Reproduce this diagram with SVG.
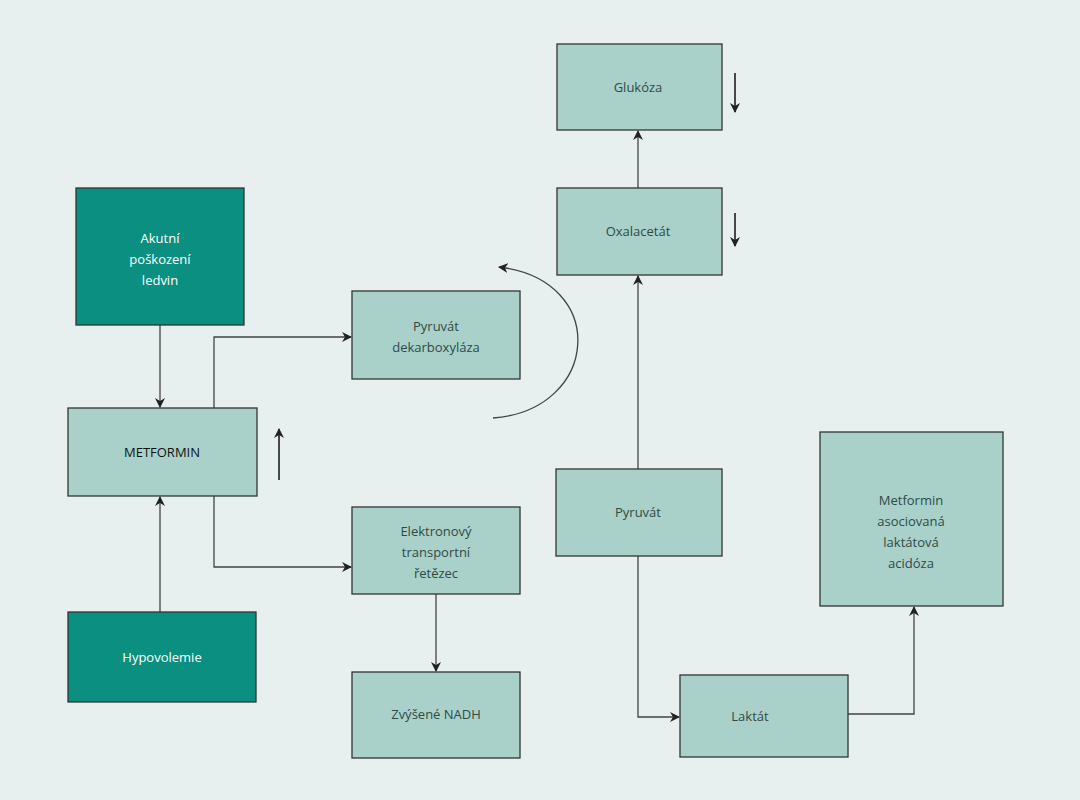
<svg xmlns="http://www.w3.org/2000/svg" width="1080" height="800" viewBox="0 0 1080 800">
<defs>
<style>
.b{fill:#a9d1ca;stroke:#333;stroke-width:1.3}
.d{fill:#0b8f80;stroke:#333;stroke-width:1.3}
.t{font-family:"Open Sans","Liberation Sans",sans-serif;font-size:13px;fill:#2f4a46;text-anchor:middle}
.w{fill:#fff}
.c{fill:none;stroke:#444;stroke-width:1.3}
.k{fill:none;stroke:#111;stroke-width:1.5}
</style>
<marker id="a" viewBox="0 0 10 10" refX="9" refY="5" markerWidth="10" markerHeight="10" markerUnits="userSpaceOnUse" orient="auto"><path d="M0,0 L10,5 L0,10 L3,5Z" fill="#222"/></marker>
<marker id="h" viewBox="0 0 10 10" refX="9" refY="5" markerWidth="12" markerHeight="12" markerUnits="userSpaceOnUse" orient="auto"><path d="M0,0 L10,5 L0,10 L3,5Z" fill="#000"/></marker>
</defs>
<rect width="1080" height="800" fill="#e7efef"/>
<g id="connectors">
<path class="c" d="M160,325V407" marker-end="url(#a)"/>
<path class="c" d="M160,612V497" marker-end="url(#a)"/>
<path class="c" d="M214,408V337H351" marker-end="url(#a)"/>
<path class="c" d="M214,496V567H351" marker-end="url(#a)"/>
<path class="c" d="M436,594V671" marker-end="url(#a)"/>
<path class="c" d="M638,188V131" marker-end="url(#a)"/>
<path class="c" d="M638,469V276" marker-end="url(#a)"/>
<path class="c" d="M638,556V717H679" marker-end="url(#a)"/>
<path class="c" d="M848,714H914V607" marker-end="url(#a)"/>
<path class="c" d="M493,418C600,410 610,280 499,267" marker-end="url(#a)"/>
<path class="k" d="M279,480V429" marker-end="url(#a)"/>
<path class="k" d="M735,73V112" marker-end="url(#a)"/>
<path class="k" d="M735,213V246" marker-end="url(#a)"/>
<path class="k" d="M800,728V700" stroke-width="2.2" marker-end="url(#h)"/>
</g>
<g id="glukoza"><rect class="b" x="557" y="44" width="165" height="86"/><text class="t" x="638" y="92">Glukóza</text></g>
<g id="oxalacetat"><rect class="b" x="557" y="188" width="165" height="87"/><text class="t" x="638" y="236">Oxalacetát</text></g>
<g id="akutni"><rect class="d" x="76" y="188" width="168" height="137"/><text class="t w" x="160" y="243">Akutní</text><text class="t w" x="160" y="264">poškození</text><text class="t w" x="160" y="285">ledvin</text></g>
<g id="pdk"><rect class="b" x="352" y="291" width="168" height="88"/><text class="t" x="436" y="331">Pyruvát</text><text class="t" x="436" y="352">dekarboxyláza</text></g>
<g id="metformin"><rect class="b" x="68" y="408" width="189" height="88"/><text class="t" x="162" y="457" style="fill:#111">METFORMIN</text></g>
<g id="etc"><rect class="b" x="352" y="507" width="168" height="87"/><text class="t" x="436" y="536">Elektronový</text><text class="t" x="436" y="557">transportní</text><text class="t" x="436" y="578">řetězec</text></g>
<g id="pyruvat"><rect class="b" x="556" y="469" width="166" height="87"/><text class="t" x="638" y="517">Pyruvát</text></g>
<g id="mala"><rect class="b" x="820" y="432" width="183" height="174"/><text class="t" x="911" y="505">Metformin</text><text class="t" x="911" y="526">asociovaná</text><text class="t" x="911" y="547">laktátová</text><text class="t" x="911" y="568">acidóza</text></g>
<g id="hypovolemie"><rect class="d" x="68" y="612" width="188" height="90"/><text class="t w" x="162" y="662">Hypovolemie</text></g>
<g id="nadh"><rect class="b" x="352" y="672" width="168" height="86"/><text class="t" x="436" y="719">Zvýšené NADH</text></g>
<g id="laktat"><rect class="b" x="680" y="675" width="168" height="82"/><text class="t" x="750" y="721">Laktát</text></g>
</svg>
